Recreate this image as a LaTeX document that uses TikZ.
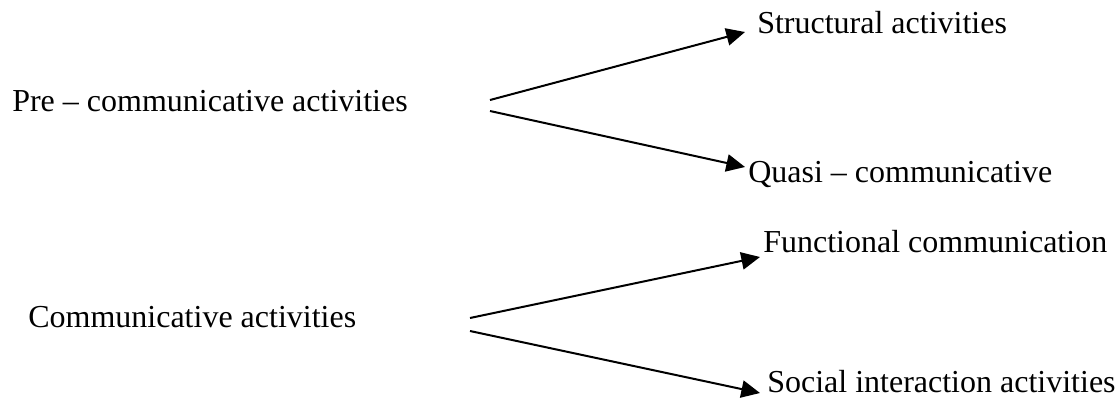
\documentclass[tikz,border=0pt]{standalone}
\usepackage{fontspec}
\setmainfont{Liberation Serif}
\usetikzlibrary{arrows.meta}
\usetikzlibrary{positioning}

\begin{document}
\begin{tikzpicture}[x=0.75pt,y=-0.75pt,
  lbl/.style={inner sep=0pt,anchor=base west,font=\fontsize{24}{28}\selectfont},
  arr/.style={line width=1.5pt,-{Triangle[length=14pt,width=13pt]}}]
\useasboundingbox (0,0) rectangle (1120,407);
\node[lbl] (pre) at (12,111) {Pre -- communicative activities};
\node[lbl] (struct) at (757,33) {Structural activities};
\node[lbl] (quasi) at (748,182) {Quasi -- communicative};
\node[lbl] (comm) at (28,327) {Communicative activities};
\node[lbl] (func) at (763,252) {Functional communication};
\node[lbl] (social) at (767,392) {Social interaction activities};

\coordinate (preup) at (490,100);
\coordinate (predown) at (490,111);
\coordinate (commup) at (470,318);
\coordinate (commdown) at (470,331);

\draw[arr] (preup) -- ([shift={(-12,-1)}]struct.base west);
\draw[arr] (predown) -- ([shift={(-3,-15)}]quasi.base west);
\draw[arr] (commup) -- ([shift={(-3,5)}]func.base west);
\draw[arr] (commdown) -- ([shift={(-7,1)}]social.base west);
\end{tikzpicture}
\end{document}
